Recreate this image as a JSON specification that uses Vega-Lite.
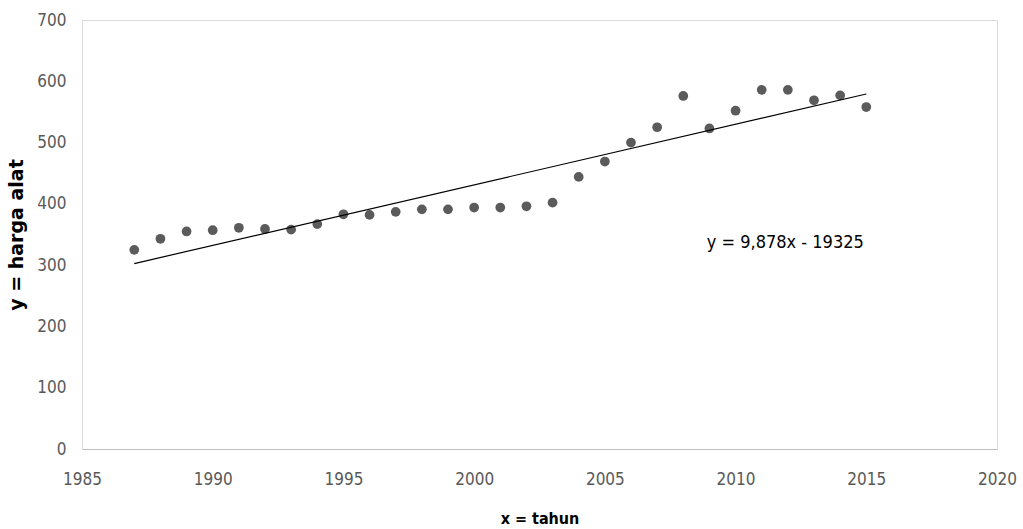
{
  "$schema": "https://vega.github.io/schema/vega-lite/v6.json",
  "autosize": {"type": "none"},
  "width": 915,
  "height": 429,
  "padding": {"left": 82, "top": 20, "right": 26, "bottom": 80},
  "background": "white",
  "config": {
    "view": {"stroke": "#d9d9d9", "strokeWidth": 1},
    "axis": {"grid": false, "ticks": false, "labelFont": "DejaVu Sans Condensed, Lato", "labelFontSize": 17, "labelColor": "#595959"}
  },
  "datasets": {
    "obs": [
      {"tahun": 1987, "harga": 325}, {"tahun": 1988, "harga": 343}, {"tahun": 1989, "harga": 355},
      {"tahun": 1990, "harga": 357}, {"tahun": 1991, "harga": 361}, {"tahun": 1992, "harga": 359},
      {"tahun": 1993, "harga": 358}, {"tahun": 1994, "harga": 367}, {"tahun": 1995, "harga": 383},
      {"tahun": 1996, "harga": 382}, {"tahun": 1997, "harga": 387}, {"tahun": 1998, "harga": 391},
      {"tahun": 1999, "harga": 391}, {"tahun": 2000, "harga": 394}, {"tahun": 2001, "harga": 394},
      {"tahun": 2002, "harga": 396}, {"tahun": 2003, "harga": 402}, {"tahun": 2004, "harga": 444},
      {"tahun": 2005, "harga": 469}, {"tahun": 2006, "harga": 500}, {"tahun": 2007, "harga": 525},
      {"tahun": 2008, "harga": 576}, {"tahun": 2009, "harga": 523}, {"tahun": 2010, "harga": 552},
      {"tahun": 2011, "harga": 586}, {"tahun": 2012, "harga": 586}, {"tahun": 2013, "harga": 569},
      {"tahun": 2014, "harga": 577}, {"tahun": 2015, "harga": 558}
    ],
    "trend": [
      {"tahun": 1987, "harga": 302.6}, {"tahun": 2015, "harga": 579.2}
    ],
    "label": [
      {"tahun": 2008.9, "harga": 336, "teks": "y = 9,878x - 19325"}
    ]
  },
  "layer": [
    {
      "data": {"name": "obs"},
      "mark": {"type": "point", "filled": true, "shape": "circle", "size": 95, "color": "#5b5b5b", "opacity": 1},
      "encoding": {
        "x": {"field": "tahun", "type": "quantitative",
          "scale": {"domain": [1985, 2020], "nice": false, "zero": false},
          "axis": {"values": [1985, 1990, 1995, 2000, 2005, 2010, 2015, 2020], "format": "d",
            "title": "x = tahun", "titleFont": "DejaVu Sans Condensed, Lato", "titleFontSize": 16, "titleFontWeight": "bold",
            "titleColor": "black", "titlePadding": 23, "labelPadding": 22, "domainColor": "#bfbfbf", "labelFlush": false}},
        "y": {"field": "harga", "type": "quantitative",
          "scale": {"domain": [0, 700], "nice": false},
          "axis": {"values": [0, 100, 200, 300, 400, 500, 600, 700],
            "title": "y = harga alat", "titleFont": "DejaVu Sans", "titleFontSize": 19, "titleFontWeight": "bold",
            "titleColor": "black", "titlePadding": 10, "labelPadding": 16, "domainColor": "#d9d9d9"}}
      }
    },
    {
      "data": {"name": "trend"},
      "mark": {"type": "line", "color": "black", "strokeWidth": 1.2},
      "encoding": {
        "x": {"field": "tahun", "type": "quantitative"},
        "y": {"field": "harga", "type": "quantitative"}
      }
    },
    {
      "data": {"name": "label"},
      "mark": {"type": "text", "align": "left", "baseline": "middle", "font": "DejaVu Sans Condensed, Lato", "fontSize": 18, "color": "black"},
      "encoding": {
        "x": {"field": "tahun", "type": "quantitative"},
        "y": {"field": "harga", "type": "quantitative"},
        "text": {"field": "teks"}
      }
    }
  ]
}
